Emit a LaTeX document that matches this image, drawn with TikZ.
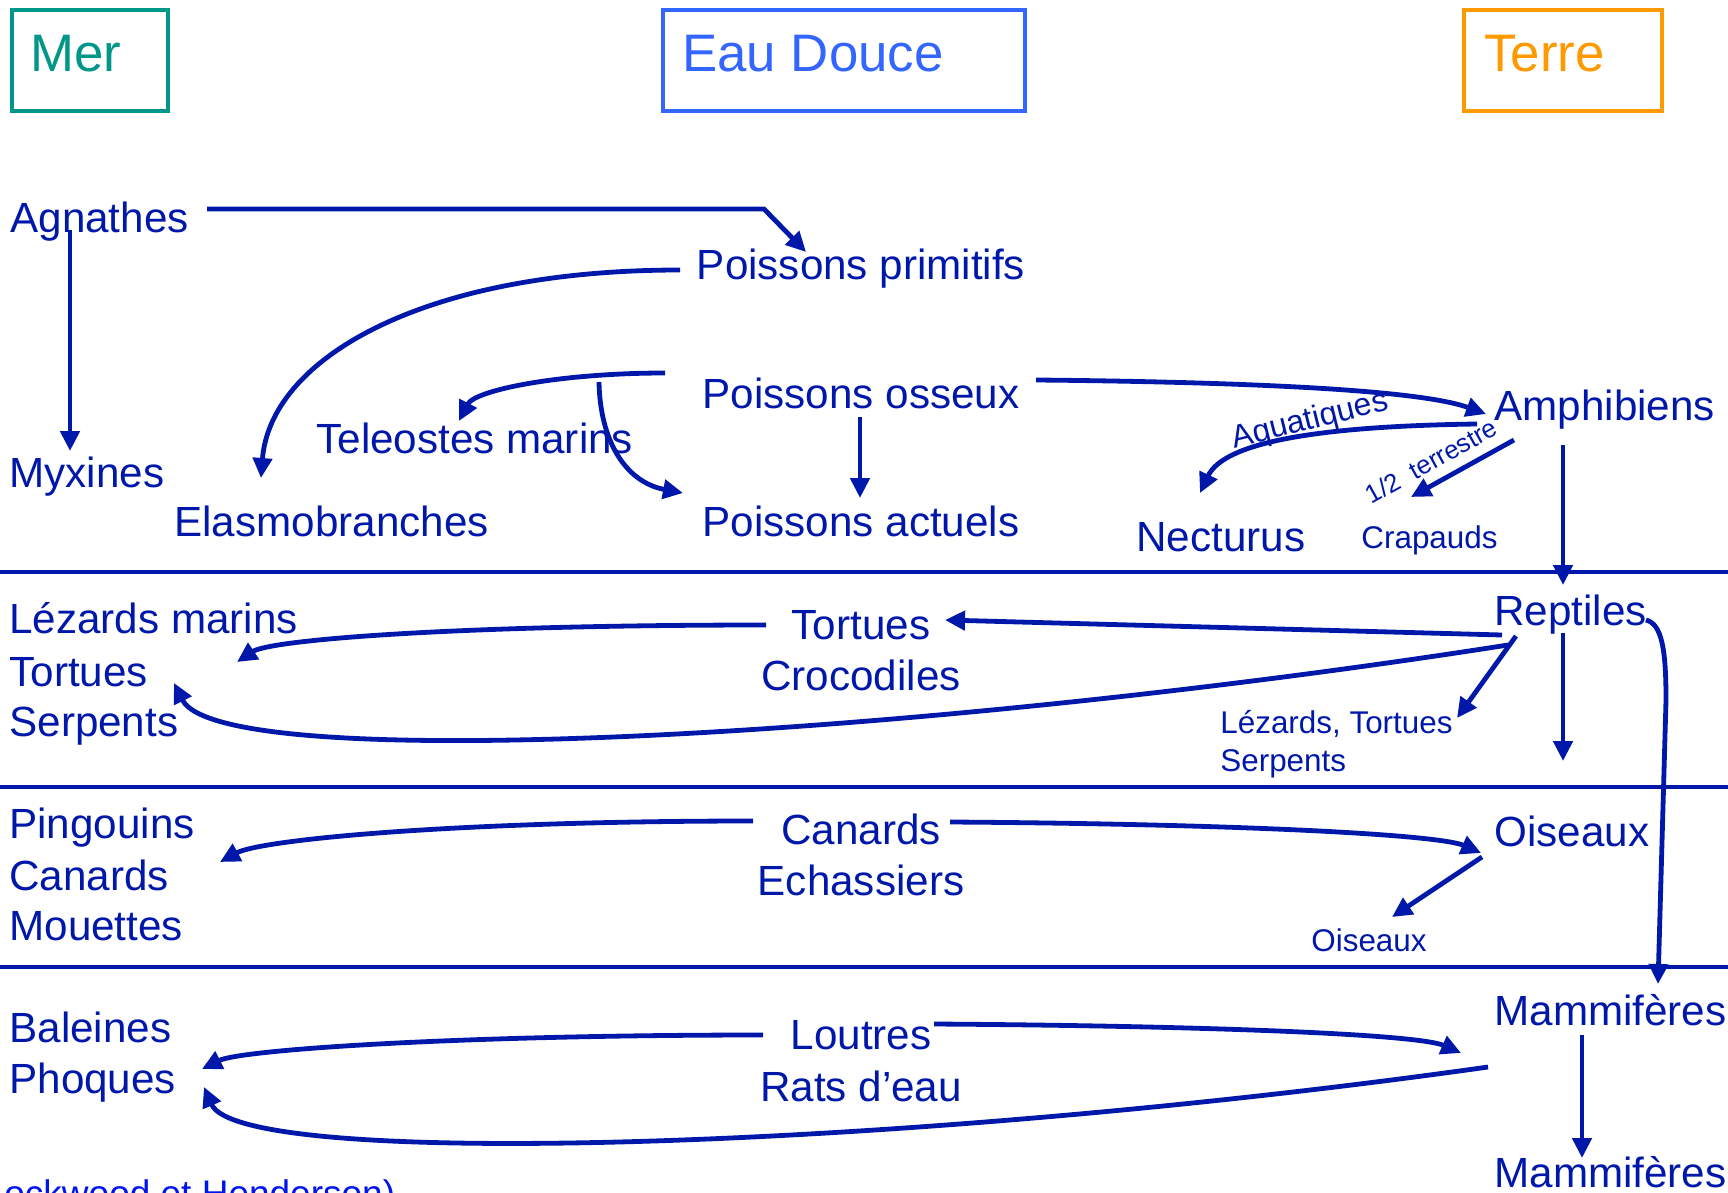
\documentclass[tikz,border=0pt]{standalone}
\usepackage{fontspec}
\setmainfont{Liberation Sans}
\usetikzlibrary{arrows.meta}
\definecolor{dk}{RGB}{0,24,170}
\definecolor{merc}{RGB}{0,150,136}
\definecolor{eauc}{RGB}{51,102,255}
\definecolor{terc}{RGB}{255,153,0}
\definecolor{footc}{RGB}{0,20,240}
\tikzset{
  lbl/.style={inner sep=0pt, anchor=base west, text=dk, font=\fontsize{21.1}{25}\selectfont},
  lblc/.style={lbl, anchor=base},
  sml/.style={lbl, font=\fontsize{15.7}{19}\selectfont},
  hdrbox/.style={draw, line width=2pt, anchor=north west, inner sep=0pt},
  hdrtxt/.style={inner sep=0pt, anchor=base west, font=\fontsize{26.4}{30}\selectfont},
  arr/.style={draw=dk, line width=2.4pt, -{Triangle[length=10pt,width=9.5pt]}},
  sepline/.style={draw=dk, line width=2.3pt},
}
\begin{document}
\begin{tikzpicture}[x=0.5pt,y=-0.5pt]
\useasboundingbox (0,0) rectangle (1728,1193);
\fill[white] (0,0) rectangle (1728,1193);

% header boxes
\node[hdrbox, draw=merc, minimum width=78pt, minimum height=50.5pt] (merbox) at (10,8) {};
\node[hdrtxt, text=merc] (mer) at (30,72) {Mer};
\node[hdrbox, draw=eauc, minimum width=181pt, minimum height=50.5pt] (eaubox) at (661,8) {};
\node[hdrtxt, text=eauc] (eau) at (682,72) {Eau Douce};
\node[hdrbox, draw=terc, minimum width=99pt, minimum height=50.5pt] (terbox) at (1462,8) {};
\node[hdrtxt, text=terc] (ter) at (1484,72) {Terre};

% separators
\coordinate (s1a) at (0,572); \coordinate (s1b) at (1728,572);
\coordinate (s2a) at (0,787); \coordinate (s2b) at (1728,787);
\coordinate (s3a) at (0,967); \coordinate (s3b) at (1728,967);
\draw[sepline] (s1a) -- (s1b);
\draw[sepline] (s2a) -- (s2b);
\draw[sepline] (s3a) -- (s3b);

% row 1
\node[lbl] (agn) at (10,232) {Agnathes};
\node[lbl] (myx) at (9,487) {Myxines};
\node[lblc] (pp) at (861,279) {Poissons primitifs};
\node[lblc] (po) at (861,408) {Poissons osseux};
\node[lbl] (tel) at (316,453) {Teleostes marins};
\node[lbl] (ela) at (174,536) {Elasmobranches};
\node[lblc] (pa) at (861,536) {Poissons actuels};
\node[lbl] (amph) at (1494,420) {Amphibiens};
\node[lbl] (nect) at (1136,551) {Necturus};
\node[sml] (crap) at (1361,548) {Crapauds};
\node[inner sep=0pt, text=dk, rotate=14, font=\fontsize{16}{19}\selectfont] (aq) at (1310,421) {Aquatiques};
\node[inner sep=0pt, text=dk, rotate=29, font=\fontsize{12.9}{15}\selectfont] (half) at (1431,461) {1/2~ terrestre};

% row 2
\node[lbl] (lm) at (9,633) {Lézards marins};
\node[lbl] (tortl) at (9,686) {Tortues};
\node[lbl] (serpl) at (9,736) {Serpents};
\node[lblc] (tortc) at (861,639) {Tortues};
\node[lblc] (croc) at (861,690) {Crocodiles};
\node[lbl] (rept) at (1494,625) {Reptiles};
\node[sml] (lzt) at (1220,733) {Lézards, Tortues};
\node[sml] (serps) at (1220,771) {Serpents};

% row 3
\node[lbl] (ping) at (9,838) {Pingouins};
\node[lbl] (canl) at (9,890) {Canards};
\node[lbl] (mou) at (9,940) {Mouettes};
\node[lblc] (canc) at (861,844) {Canards};
\node[lblc] (ech) at (861,895) {Echassiers};
\node[lbl] (ois) at (1494,846) {Oiseaux};
\node[sml] (oiss) at (1311,951) {Oiseaux};

% row 4
\node[lbl] (bal) at (9,1042) {Baleines};
\node[lbl] (pho) at (9,1093) {Phoques};
\node[lblc] (lout) at (861,1049) {Loutres};
\node[lblc] (rats) at (861,1101) {Rats d’eau};
\node[lbl] (mam1) at (1494,1025) {Mammifères};
\node[lbl] (mam2) at (1494,1187) {Mammifères};

\node[inner sep=0pt, anchor=base west, text=footc, font=\fontsize{18.5}{22}\selectfont] (foot) at (4,1206) {ockwood et Henderson)};

% connector end points
\coordinate (agn-r) at (207,209);
\coordinate (agn-k) at (764,209);
\coordinate (pp-in) at (806,252);
\coordinate (agn-d) at (70,230);
\coordinate (myx-in) at (70,451);
\coordinate (pp-l) at (680,270);
\coordinate (ela-in) at (261,478);
\coordinate (po-l) at (665,373);
\coordinate (tel-in) at (459,421);
\coordinate (po-br) at (599,382);
\coordinate (pa-l) at (683,493);
\coordinate (po-d) at (860,417);
\coordinate (pa-in) at (860,498);
\coordinate (po-r) at (1036,380);
\coordinate (amph-in) at (1486,414);
\coordinate (amph-l) at (1477,424);
\coordinate (nect-in) at (1200,493);
\coordinate (amph-dl) at (1514,440);
\coordinate (crap-in) at (1411,497);
\coordinate (amph-d) at (1563,445);
\coordinate (rept-in) at (1563,585);
% row 2
\coordinate (rept-l1) at (1502,635);
\coordinate (tortc-in) at (945,620);
\coordinate (tortc-l) at (766,625);
\coordinate (lm-in) at (237,662);
\coordinate (rept-l2) at (1508,645);
\coordinate (serpl-in) at (174,683);
\coordinate (rept-dl) at (1516,636);
\coordinate (lzt-in) at (1457,718);
\coordinate (rept-d) at (1563,633);
\coordinate (rept-dn) at (1563,761);
\coordinate (rept-r) at (1646,620);
\coordinate (mam1-in) at (1658,984);
% row 3
\coordinate (canc-l) at (753,821);
\coordinate (ping-in) at (220,862);
\coordinate (canc-r) at (950,822);
\coordinate (ois-in) at (1481,853);
\coordinate (ois-l) at (1482,857);
\coordinate (oiss-in) at (1392,917);
% row 4
\coordinate (lout-l) at (763,1035);
\coordinate (bal-in) at (202,1069);
\coordinate (lout-r) at (934,1024);
\coordinate (mam1-l-in) at (1461,1053);
\coordinate (mam1-l) at (1488,1067);
\coordinate (pho-in) at (204,1087);
\coordinate (mam1-d) at (1582,1035);
\coordinate (mam2-in) at (1582,1158);

% connectors
\draw[arr] (agn-r) -- (agn-k) -- (pp-in);
\draw[arr] (agn-d) -- (myx-in);
\draw[arr] (pp-l) .. controls (420,270) and (270,360) .. (ela-in);
\draw[arr] (po-l) .. controls (560,373) and (475,390) .. (tel-in);
\draw[arr] (po-br) .. controls (600,440) and (625,482) .. (pa-l);
\draw[arr] (po-d) -- (pa-in);
\draw[arr] (po-r) .. controls (1250,382) and (1420,390) .. (amph-in);
\draw[arr] (amph-l) .. controls (1330,426) and (1225,440) .. (nect-in);
\draw[arr] (amph-dl) -- (crap-in);
\draw[arr] (amph-d) -- (rept-in);

\draw[arr] (rept-l1) -- (tortc-in);
\draw[arr] (tortc-l) .. controls (450,625) and (270,640) .. (lm-in);
\draw[arr] (rept-l2) .. controls (900,740) and (220,775) .. (serpl-in);
\draw[arr] (rept-dl) -- (lzt-in);
\draw[arr] (rept-d) -- (rept-dn);
\draw[arr] (rept-r) .. controls (1662,624) and (1666,650) .. (1666,700) -- (mam1-in);

\draw[arr] (canc-l) .. controls (450,821) and (260,840) .. (ping-in);
\draw[arr] (canc-r) .. controls (1250,824) and (1440,835) .. (ois-in);
\draw[arr] (ois-l) -- (oiss-in);

\draw[arr] (lout-l) .. controls (450,1035) and (240,1050) .. (bal-in);
\draw[arr] (lout-r) .. controls (1230,1026) and (1420,1035) .. (mam1-l-in);
\draw[arr] (mam1-l) .. controls (900,1150) and (240,1170) .. (pho-in);
\draw[arr] (mam1-d) -- (mam2-in);
\end{tikzpicture}
\end{document}
